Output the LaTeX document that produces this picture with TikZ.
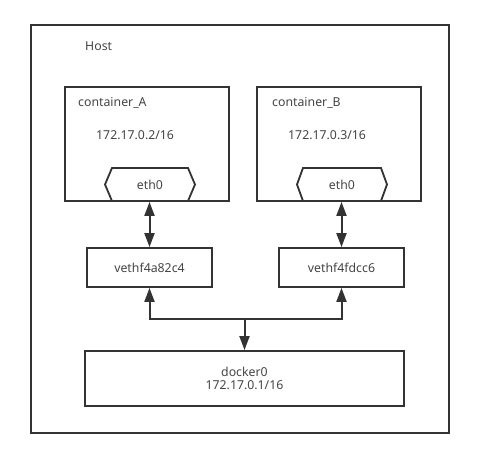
\documentclass[tikz,border=0pt]{standalone}
\usepackage{fontspec}
\setmainfont{Noto Sans}
\usetikzlibrary{arrows.meta}
\definecolor{ln}{HTML}{333333}
\definecolor{tx}{HTML}{444444}
\begin{document}
\begin{tikzpicture}[x=1pt,y=-1pt,
  fnt/.style={font=\fontsize{12.3}{14}\selectfont,text=tx},
  box/.style={draw=ln,line width=1.8pt,rectangle,inner sep=0pt,fnt},
  lbl/.style={inner sep=0pt,anchor=west,fnt},
  tip/.tip={Triangle[length=14pt,width=10pt]},
  conn/.style={draw=ln,line width=2pt,tip-tip},
  conn1/.style={draw=ln,line width=2pt,-tip}]
\useasboundingbox (0,0) rectangle (496,462);
\node[box,minimum width=418pt,minimum height=408pt] (host) at (240,229) {};
\node[lbl] (hostl) at (85,46) {Host};
\node[box,minimum width=164pt,minimum height=114pt] (ca) at (147,144) {};
\node[box,minimum width=164pt,minimum height=114pt] (cb) at (339,144) {};
\node[lbl] (cal) at (78,103) {container\_A};
\node[lbl] (cbl) at (272,103) {container\_B};
\node[lbl] (caip) at (96,135) {172.17.0.2/16};
\node[lbl] (cbip) at (288,135) {172.17.0.3/16};
\draw[ln,line width=1.8pt,line join=miter] (112,201) -- (105,184.5) -- (112,168) -- (188,168) -- (195,184.5) -- (188,201);
\draw[ln,line width=1.8pt,line join=miter] (303,201) -- (297,184.5) -- (303,168) -- (381,168) -- (387,184.5) -- (381,201);
\node[inner sep=0pt,fnt] (ea) at (150,185) {eth0};
\node[inner sep=0pt,fnt] (eb) at (342,185) {eth0};
\node[box,minimum width=125pt,minimum height=39pt] (va) at (149.5,267.5) {vethf4a82c4};
\node[box,minimum width=125pt,minimum height=39pt] (vb) at (341.5,267.5) {vethf4fdcc6};
\node[box,minimum width=319pt,minimum height=55pt,align=center] (dk) at (244.5,378.5) {docker0\\[-1pt]172.17.0.1/16};
\coordinate (bus) at (244.5,319);
\draw[conn] (va.north |- ca.south) -- (va.north);
\draw[conn] (vb.north |- cb.south) -- (vb.north);
\draw[conn] (va.south) -- (va.south |- bus) -- (vb.south |- bus) -- (vb.south);
\draw[conn1] (bus) -- (dk.north);
\end{tikzpicture}
\end{document}
